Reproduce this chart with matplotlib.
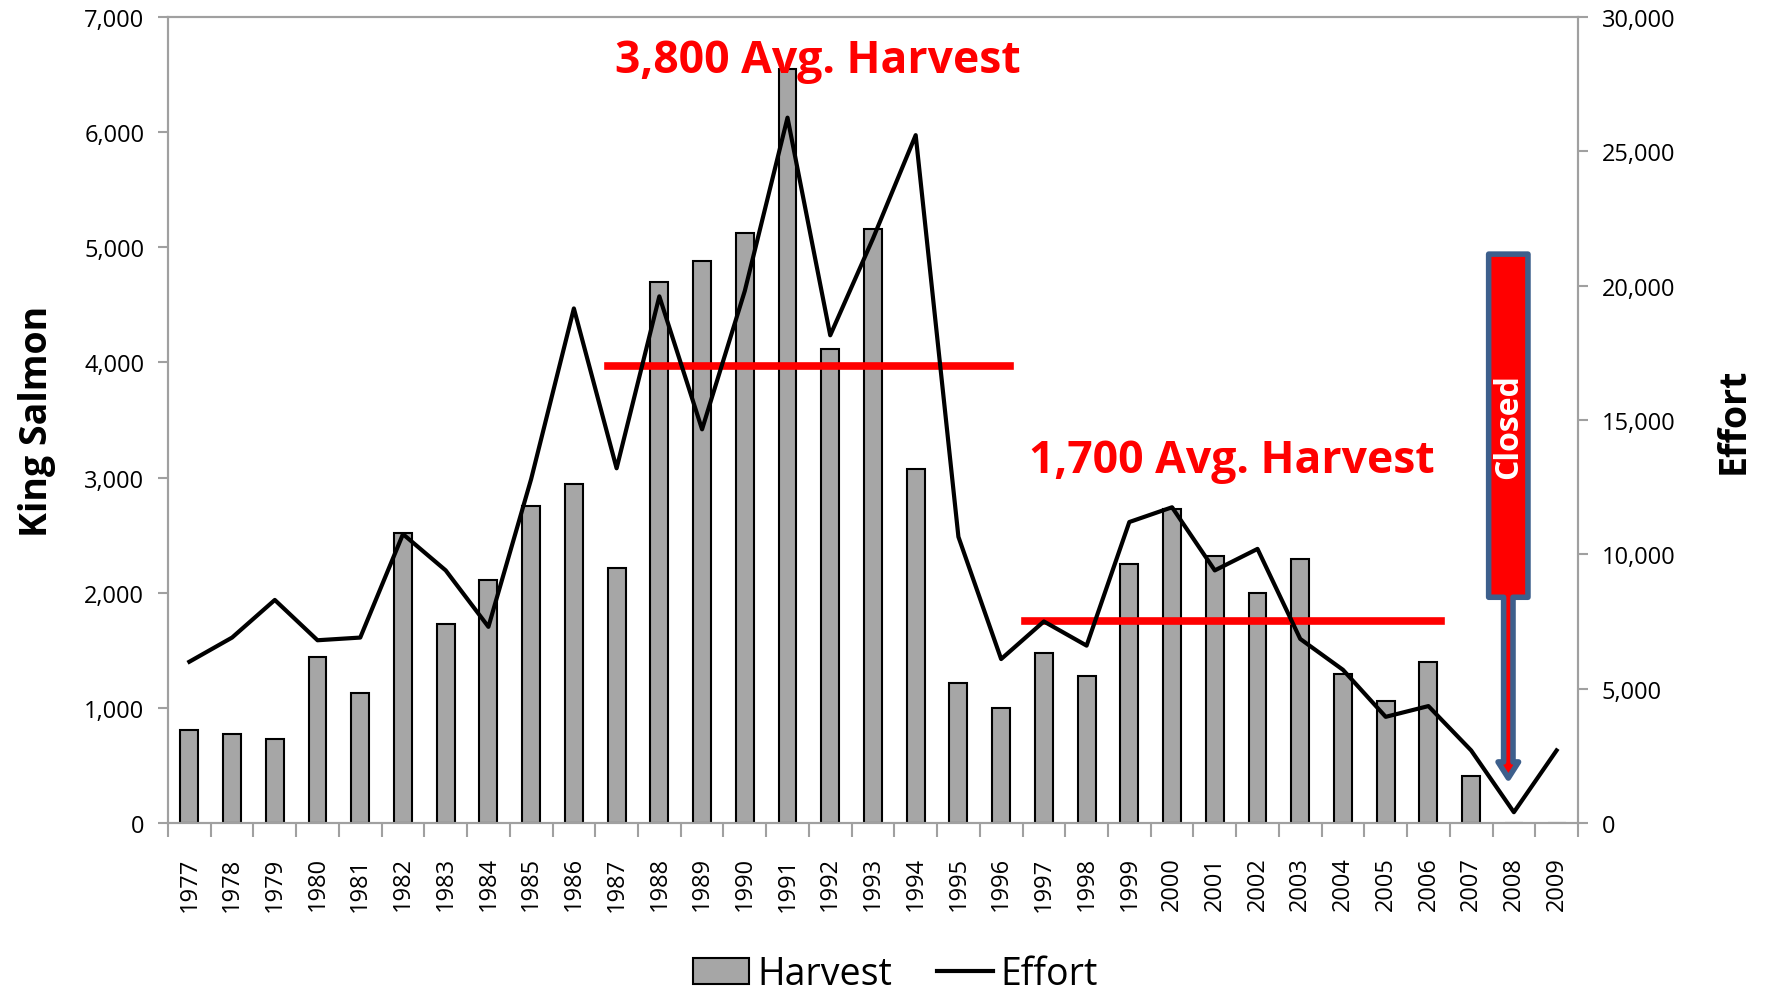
import matplotlib
matplotlib.use("Agg")
import matplotlib.pyplot as plt
from matplotlib.patches import Polygon, Patch
from matplotlib.lines import Line2D
import numpy as np

plt.rcParams['font.family'] = ['Open Sans', 'DejaVu Sans']

years = list(range(1977, 2010))
harvest = [810, 775, 725, 1440, 1130, 2520, 1725, 2110, 2755, 2940,
           2215, 4700, 4880, 5120, 6550, 4120, 5160, 3070, 1215, 1000,
           1480, 1275, 2245, 2725, 2315, 2000, 2295, 1295, 1060, 1400,
           410, 0, 0]
effort = [6000, 6900, 8300, 6800, 6900, 10750, 9400, 7300, 12800, 19150,
          13200, 19600, 14650, 19800, 26250, 18150, 21750, 25600, 10650, 6100,
          7500, 6600, 11200, 11750, 9400, 10200, 6850, 5700, 3950, 4350,
          2700, 400, 2700]

# average harvest lines: (label, level, first year, last year)
avg_early = ("3,800 Avg. Harvest", 3970, 1986.8, 1996.2)
avg_late = ("1,700 Avg. Harvest", 1750, 1996.55, 2006.3)

grey = '#a0a0a0'
x = np.arange(len(years))

fig = plt.figure(figsize=(17.7, 9.95), dpi=100)
ax = fig.add_axes([0.0949, 0.1719, 0.7966, 0.8101])
ax2 = ax.twinx()

ax.bar(x, harvest, width=0.42, color='#a6a6a6', edgecolor='black', linewidth=1.5, zorder=2)
ax2.plot(x, effort, color='black', linewidth=3, zorder=3)

ax.set_xlim(-0.5, len(years) - 0.5)
ax.set_ylim(0, 7000)
ax2.set_ylim(0, 30000)
ax.set_yticks(np.arange(0, 7001, 1000))
ax2.set_yticks(np.arange(0, 30001, 5000))
ax.set_yticklabels(['{:,}'.format(v) for v in range(0, 7001, 1000)])
ax2.set_yticklabels(['{:,}'.format(v) for v in range(0, 30001, 5000)])

ax.set_xticks(x)
ax.set_xticklabels([str(y) for y in years], rotation=90)
ax.set_xticks(np.arange(-0.5, len(years)), minor=True)
ax.tick_params(axis='x', which='major', length=0, pad=24, labelsize=17)
ax.tick_params(axis='x', which='minor', length=10, width=1.5, color=grey, direction='out')
ax.tick_params(axis='y', length=7, width=1.5, color=grey, labelsize=17, pad=10)
ax2.tick_params(axis='y', length=7, width=1.5, color=grey, labelsize=17, pad=10)

for a in (ax, ax2):
    for s in a.spines.values():
        s.set_color(grey)
        s.set_linewidth(1.5)

ax.set_ylabel('King Salmon', fontsize=27, fontweight='bold', labelpad=20)
ax2.set_ylabel('Effort', fontsize=27, fontweight='bold', labelpad=28)

# average lines and labels
for label, level, y0, y1 in (avg_early, avg_late):
    ax.plot([y0 - years[0], y1 - years[0]], [level, level], color='red', linewidth=5.5, zorder=4)
ax.text(1991.7 - years[0], 6620, avg_early[0], color='red', fontsize=32,
        fontweight='bold', ha='center', va='center', zorder=5)
ax.text(2001.4 - years[0], 3150, avg_late[0], color='red', fontsize=32,
        fontweight='bold', ha='center', va='center', zorder=5)

# "Closed" arrow pointing at 2008
cx = 30.87
hw, sw, hdw = 0.46, 0.11, 0.24
box_top, box_bot, head_base, tip = 4940, 1960, 530, 390
arrow = Polygon([(cx - hw, box_top), (cx + hw, box_top), (cx + hw, box_bot),
                 (cx + sw, box_bot), (cx + sw, head_base), (cx + hdw, head_base),
                 (cx, tip), (cx - hdw, head_base), (cx - sw, head_base),
                 (cx - sw, box_bot), (cx - hw, box_bot)],
                closed=True, facecolor='red', edgecolor='#3d5f8c', linewidth=4,
                joinstyle='round', zorder=6)
ax.add_patch(arrow)
ax.text(cx, (box_top + box_bot) / 2, 'Closed', rotation=90, color='white',
        fontsize=23, fontweight='bold', ha='center', va='center', zorder=7)

handles = [Patch(facecolor='#a6a6a6', edgecolor='black', linewidth=1.5),
           Line2D([0], [0], color='black', linewidth=3)]
fig.legend(handles, ['Harvest', 'Effort'], loc='center', bbox_to_anchor=(0.506, 0.02),
           ncol=2, frameon=False, fontsize=27, handlelength=1.5, handletextpad=0.2,
           columnspacing=1.2)

fig.savefig('out.png', dpi=100)
